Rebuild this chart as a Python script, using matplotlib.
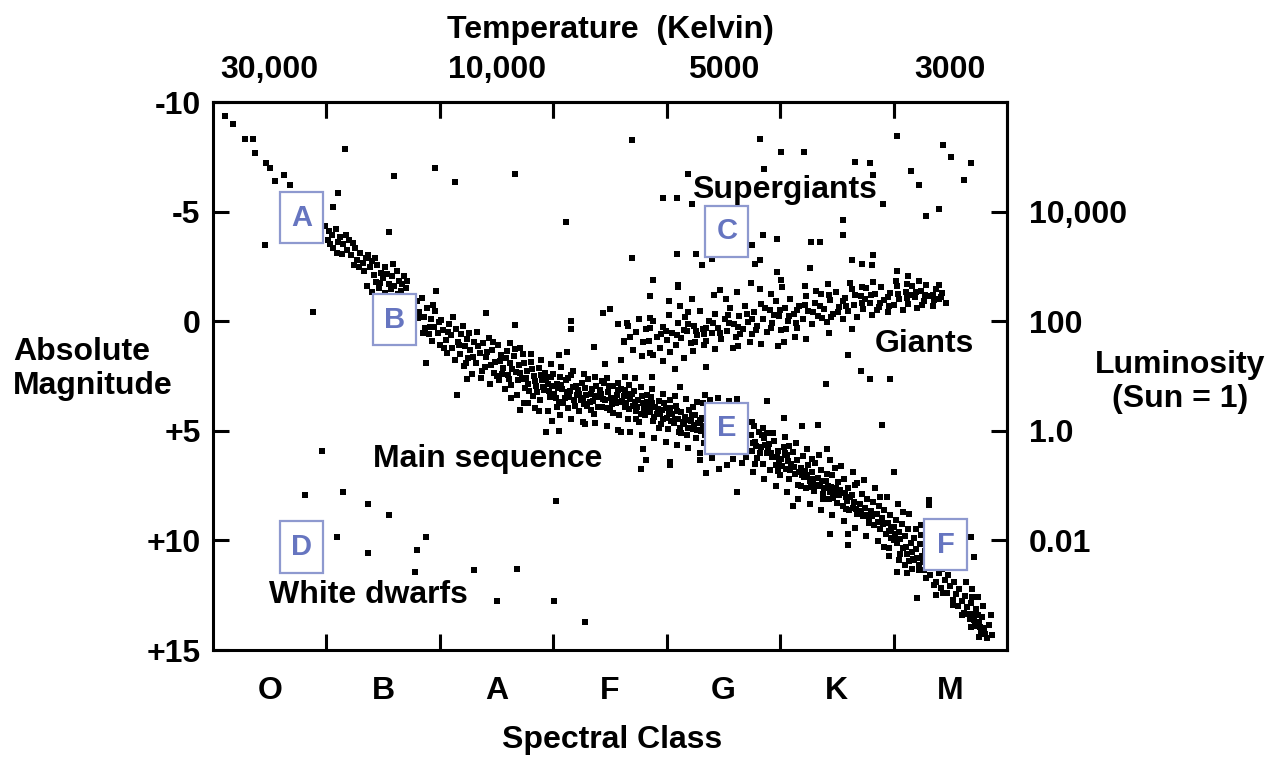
import matplotlib.pyplot as plt
from matplotlib.patches import Rectangle

plt.rcParams['font.family'] = ['Liberation Sans', 'DejaVu Sans']
plt.rcParams['font.weight'] = 'bold'

# spectral classes sit at the middle of each bin (x axis runs 0..7)
classes = ['O', 'B', 'A', 'F', 'G', 'K', 'M']
class_pos = [0.5, 1.5, 2.5, 3.5, 4.5, 5.5, 6.5]
temp_pos = [0.5, 2.5, 4.5, 6.5]
temp_labels = ['30,000', '10,000', '5000', '3000']
mag_ticks = [-10, -5, 0, 5, 10, 15]
mag_labels = ['-10', '-5', '0', '+5', '+10', '+15']
lum_ticks = [-5, 0, 5, 10]
lum_labels = ['10,000', '100', '1.0', '0.01']

# stars: (spectral position, absolute magnitude)
main_seq = [
    (0.11, -9.37), (0.18, -9.0), (0.28, -8.29), (0.35, -8.29), (0.37, -7.68), (0.47, -7.2),
    (0.50, -6.98), (0.55, -6.38), (0.63, -6.67), (0.68, -6.2),
    (0.99, -4.35), (1.02, -4.1), (1.05, -3.95), (1.01, -3.7), (1.08, -4.2), (1.10, -3.6),
    (1.12, -3.85), (1.06, -3.35), (1.15, -3.5), (1.18, -3.25), (1.14, -3.05), (1.20, -3.7),
    (1.22, -3.0), (1.25, -3.35), (1.27, -2.8), (1.24, -2.55), (1.30, -3.1), (1.32, -2.65),
    (1.35, -2.9), (1.33, -2.3), (1.38, -2.45), (1.40, -2.75), (1.42, -2.1), (1.45, -2.55),
    (1.44, -1.8), (1.48, -2.2), (1.50, -1.95), (1.52, -2.45), (1.55, -1.7), (1.58, -2.05),
    (1.60, -1.6), (1.62, -2.3), (1.64, -1.85), (1.66, -1.4), (1.68, -2.05),
    (1.36, -1.6), (1.40, -1.35), (1.46, -1.5), (1.52, -1.3), (1.57, -1.45), (1.63, -1.25),
    (1.70, -1.5), (1.73, -1.1),
    (1.80, -0.9), (1.82, -0.4), (1.84, -1.05), (1.86, -0.2), (1.87, 0.3), (1.89, -0.6),
    (1.90, 0.6), (1.92, -0.1), (1.93, 0.9), (1.95, 0.25), (1.96, -0.45), (1.98, 0.55),
    (2.00, 1.1), (2.01, -0.05), (2.03, 0.4), (2.05, 0.85), (2.06, 1.45), (2.08, 0.15),
    (2.10, 0.65), (2.11, 1.2), (2.13, 1.75), (2.14, 0.35), (2.16, 0.95), (2.18, 1.5),
    (2.19, 0.6), (2.21, 2.05), (2.22, 1.15), (2.24, 0.8), (2.25, 1.7), (2.27, 1.3),
    (2.28, 2.4), (2.30, 0.95),
    (2.32, 1.9), (2.33, 0.5), (2.35, 1.45), (2.36, 2.6), (2.38, 1.0), (2.40, 2.1),
    (2.41, 1.65), (2.43, 0.75), (2.44, 2.85), (2.46, 1.3), (2.48, 2.35), (2.49, 1.85),
    (2.51, 1.1), (2.52, 2.7), (2.54, 1.55), (2.56, 2.15), (2.57, 3.1), (2.59, 1.35),
    (2.60, 2.45), (2.62, 1.9), (2.63, 2.9), (2.65, 1.6), (2.67, 2.3), (2.68, 3.35),
    (2.70, 2.0), (2.72, 2.65), (2.73, 1.5), (2.75, 3.05), (2.77, 2.25), (2.78, 2.85),
    (2.80, 1.85), (2.82, 3.4), (2.83, 2.5), (2.85, 2.95), (2.87, 2.15), (2.88, 3.6),
    (2.90, 2.7), (2.92, 3.15), (2.93, 2.35), (2.95, 2.85), (2.97, 3.45), (2.98, 2.55),
    (3.00, 2.4), (3.01, 3.3), (3.03, 2.85), (3.05, 3.7), (3.06, 2.55), (3.08, 3.1),
    (3.10, 3.5), (3.11, 2.7), (3.13, 3.95), (3.15, 3.2), (3.16, 2.45), (3.18, 3.6),
    (3.20, 2.95), (3.21, 3.35), (3.23, 4.1), (3.25, 2.8), (3.26, 3.5), (3.28, 3.05),
    (3.30, 3.85), (3.31, 2.65), (3.33, 3.3), (3.35, 3.65), (3.36, 4.25), (3.38, 2.95),
    (3.40, 3.45), (3.41, 3.15), (3.43, 3.9), (3.45, 2.8), (3.46, 3.6), (3.48, 3.25),
    (3.50, 4.05), (3.51, 3.5), (3.53, 2.95), (3.55, 3.75), (3.56, 3.35), (3.58, 4.3),
    (3.60, 3.1), (3.61, 3.65), (3.63, 3.9), (3.65, 3.3), (3.66, 4.45), (3.68, 3.55),
    (3.70, 3.85), (3.71, 3.2), (3.73, 4.1), (3.75, 3.6), (3.76, 4.6), (3.78, 3.4),
    (3.80, 3.95), (3.81, 4.3), (3.83, 3.7), (3.85, 4.15), (3.86, 3.45), (3.88, 4.55),
    (3.90, 3.9), (3.91, 4.25), (3.93, 3.65), (3.95, 4.7), (3.96, 4.05), (3.98, 3.75),
    (4.00, 4.4), (4.01, 4.9), (4.03, 3.95), (4.05, 4.25), (4.06, 4.65), (4.08, 3.85),
    (4.10, 4.45), (4.11, 5.05), (4.13, 4.15), (4.15, 4.7), (4.16, 4.35), (4.18, 5.2),
    (4.20, 4.05), (4.21, 4.55), (4.23, 4.9), (4.25, 4.3), (4.26, 5.35), (4.28, 4.65),
    (4.30, 5.0), (4.31, 4.4), (4.33, 5.55), (4.35, 4.8),
    (3.04, 3.05), (3.14, 3.45), (3.24, 3.6), (3.34, 3.1), (3.44, 3.55), (3.54, 3.55),
    (3.64, 3.75), (3.74, 3.9), (3.84, 3.9), (3.94, 4.2), (4.04, 4.55), (4.14, 4.6),
    (4.24, 4.75), (4.34, 5.2),
    (4.38, 3.6), (4.45, 3.5), (4.55, 3.65), (4.62, 3.55), (4.40, 6.25), (4.58, 6.3),
    (4.66, 6.45), (4.70, 6.2),
    (4.74, 5.2), (4.75, 5.9), (4.77, 4.8), (4.78, 5.5), (4.80, 6.25), (4.81, 5.05),
    (4.83, 5.75), (4.85, 6.5), (4.86, 5.35), (4.88, 6.0), (4.90, 5.6), (4.91, 6.8),
    (4.93, 6.2), (4.95, 5.45), (4.96, 6.55), (4.98, 5.9), (5.00, 7.0), (5.01, 6.3),
    (5.03, 5.75), (5.05, 6.75), (5.06, 6.1), (5.08, 7.2), (5.10, 6.5), (5.11, 5.95),
    (5.13, 6.95), (5.15, 6.35), (5.16, 7.45), (5.18, 6.7), (5.20, 6.15), (5.21, 7.1),
    (5.23, 7.6), (5.25, 6.55), (5.26, 7.3), (5.28, 6.9), (5.30, 7.75), (5.31, 6.45),
    (5.33, 7.15), (5.35, 7.5), (5.36, 6.8), (5.38, 7.9), (5.40, 7.3), (5.41, 6.95),
    (5.43, 8.1), (5.45, 7.55), (5.46, 7.0), (5.48, 7.85), (5.50, 8.3), (5.51, 7.35),
    (5.53, 7.7), (5.55, 8.45), (5.56, 7.2), (5.58, 8.0), (5.60, 7.6), (5.61, 8.6),
    (5.63, 7.95), (5.65, 8.25), (5.66, 7.45), (5.68, 8.8),
    (4.79, 5.7), (4.89, 5.8), (4.99, 6.4), (5.09, 6.8), (5.19, 7.0), (5.29, 7.2),
    (5.39, 7.6), (5.49, 7.6), (5.59, 8.2), (4.84, 5.2), (5.04, 6.0), (5.24, 7.0),
    (5.44, 7.8), (5.64, 8.5),
    (5.70, 8.35), (5.72, 7.9), (5.73, 8.9), (5.75, 8.5), (5.77, 8.1), (5.78, 9.1),
    (5.80, 8.65), (5.82, 8.25), (5.83, 9.3), (5.85, 8.8), (5.87, 8.45), (5.88, 9.5),
    (5.90, 9.0), (5.92, 8.6), (5.93, 9.7), (5.95, 9.2), (5.97, 8.85), (5.98, 9.9),
    (6.00, 9.4), (6.02, 9.05), (6.03, 10.1), (6.05, 9.6), (6.07, 9.25), (6.08, 10.35),
    (6.10, 9.8), (6.12, 10.6), (6.13, 9.5), (6.15, 10.1), (6.17, 10.85), (6.18, 9.9),
    (6.20, 10.4), (6.22, 11.1), (6.23, 10.15), (6.25, 10.7), (6.27, 11.35), (6.28, 10.5),
    (6.30, 10.95), (6.32, 11.6), (6.33, 10.8), (6.35, 11.25), (6.37, 11.9), (6.38, 11.05),
    (6.40, 11.5), (6.42, 12.15), (6.43, 11.3), (6.45, 11.8), (6.47, 12.4), (6.48, 11.6),
    (6.50, 12.1), (6.52, 12.7), (6.53, 11.9), (6.55, 12.45), (6.57, 13.0), (6.58, 12.2),
    (6.60, 12.75), (6.62, 13.3), (6.63, 12.55), (6.65, 13.05), (6.67, 13.6), (6.68, 12.85),
    (6.70, 13.35), (6.72, 13.9), (6.73, 13.15), (6.75, 13.7), (6.77, 14.2), (6.78, 13.5),
    (6.80, 14.0), (6.82, 14.45), (6.84, 13.85), (6.87, 14.3),
    (5.11, 8.43), (5.44, 9.71), (5.60, 9.71), (5.60, 10.21), (6.03, 11.43), (6.12, 11.51),
    (6.21, 12.63), (6.37, 12.48), (6.31, 8.14), (6.31, 8.37), (6.00, 6.87), (6.68, 9.86),
    (6.71, 10.76), (5.92, 10.3), (5.96, 10.7), (6.00, 10.0), (6.05, 10.9), (6.10, 11.1),
    (6.16, 11.3), (6.20, 9.5),
]

main_seq_fill = [
    (1.03, -3.5), (1.09, -3.1), (1.17, -3.95), (1.23, -3.55), (1.29, -2.45), (1.37, -3.0),
    (1.43, -2.9), (1.47, -1.75), (1.53, -2.15), (1.59, -2.6), (1.67, -1.7), (1.71, -1.85),
    (1.81, -0.15), (1.85, 0.55), (1.91, 0.25), (1.94, -0.75), (1.99, 0.05), (2.04, 1.2),
    (2.07, 0.5), (2.12, -0.2), (2.17, 1.1), (2.20, 0.2), (2.23, 1.9), (2.26, 0.55),
    (2.29, 1.65), (2.34, 1.15), (2.37, 2.25), (2.42, 1.4), (2.45, 2.0), (2.47, 0.95),
    (2.50, 2.5), (2.53, 1.8), (2.55, 2.4), (2.58, 1.7), (2.61, 2.65), (2.64, 2.2),
    (2.66, 1.25), (2.69, 2.7), (2.71, 2.35), (2.74, 1.9), (2.76, 2.6), (2.79, 3.2),
    (2.81, 2.2), (2.84, 2.75), (2.86, 3.25), (2.89, 2.45), (2.91, 3.0), (2.94, 2.6),
    (2.96, 3.2), (2.99, 2.95), (3.02, 3.5), (3.07, 2.9), (3.09, 3.75), (3.12, 3.25),
    (3.17, 3.0), (3.19, 3.85), (3.22, 3.15), (3.27, 3.8), (3.29, 3.35), (3.32, 3.7),
    (3.37, 3.4), (3.39, 3.9), (3.42, 3.3), (3.47, 3.95), (3.49, 2.95), (3.52, 3.8),
    (3.57, 3.15), (3.59, 3.7), (3.62, 3.4), (3.67, 4.0), (3.69, 3.3), (3.72, 3.7),
    (3.77, 4.25), (3.79, 3.75), (3.82, 4.05), (3.87, 3.75), (3.89, 4.35), (3.92, 4.0),
    (3.97, 4.45), (3.99, 3.95), (4.02, 4.25), (4.07, 4.45), (4.09, 4.1), (4.12, 4.85),
    (4.17, 4.5), (4.19, 4.85), (4.22, 4.3), (4.27, 4.95), (4.29, 4.5), (4.32, 4.8),
    (4.76, 5.55), (4.82, 6.0), (4.87, 5.65), (4.92, 6.0), (4.97, 6.2), (5.02, 6.6),
    (5.07, 6.4), (5.12, 6.65), (5.17, 6.9), (5.22, 6.85), (5.27, 7.55), (5.32, 7.45),
    (5.37, 7.3), (5.42, 7.5), (5.47, 8.05), (5.52, 7.95), (5.57, 7.85), (5.62, 8.0),
    (5.67, 8.55), (5.71, 8.65), (5.76, 8.85), (5.81, 8.9), (5.86, 9.15), (5.91, 9.25),
    (5.96, 9.55), (6.01, 9.7), (6.06, 9.95), (6.11, 10.3), (6.16, 10.55), (6.21, 10.8),
    (6.26, 11.0), (6.66, 13.35), (6.71, 13.65), (6.76, 13.95), (6.81, 14.25), (6.69, 12.6),
    (6.74, 13.4),
]

main_seq_edges = [
    (2.62, 1.0), (2.71, 1.2), (2.80, 1.5), (2.89, 1.75), (2.98, 1.95), (3.07, 2.1),
    (3.17, 2.25), (3.27, 2.4), (3.37, 2.55), (3.47, 2.6), (3.57, 2.8), (3.67, 2.9),
    (3.77, 3.0), (3.87, 3.1), (3.97, 3.3), (4.07, 3.4), (4.17, 3.55), (4.27, 3.7),
    (4.32, 3.75), (4.75, 4.6), (4.85, 4.85), (4.94, 5.1), (5.04, 5.3), (5.14, 5.55),
    (5.24, 5.85), (5.34, 6.1), (5.44, 6.35), (5.54, 6.6), (5.64, 6.9), (5.74, 7.25),
    (5.84, 7.6), (5.94, 8.0), (6.04, 8.35), (6.14, 8.8), (6.24, 9.3), (6.64, 11.9),
    (6.69, 12.2), (6.74, 12.6), (6.79, 13.0), (6.86, 13.4),
    (2.63, 3.5), (2.74, 3.75), (2.84, 3.95), (2.95, 4.1), (3.06, 4.3), (3.16, 4.45),
    (3.26, 4.6), (3.37, 4.65), (3.47, 4.8), (3.57, 4.95), (3.68, 5.05), (3.78, 5.2),
    (3.89, 5.35), (3.99, 5.5), (4.09, 5.65), (4.19, 5.8), (4.29, 6.0),
    (4.76, 6.9), (4.86, 7.2), (4.96, 7.5), (5.06, 7.8), (5.16, 8.1), (5.26, 8.35),
    (5.36, 8.6), (5.46, 8.85), (5.56, 9.1), (5.66, 9.45), (5.76, 9.8), (5.86, 10.05),
    (5.96, 10.35), (6.06, 10.6), (6.14, 10.95), (6.22, 11.35), (6.29, 11.7), (6.36, 12.05),
    (6.44, 12.4), (6.52, 12.95), (6.60, 13.4), (6.68, 13.95), (6.75, 14.4),
    (3.03, 3.9), (3.13, 2.6), (3.23, 3.3), (3.33, 4.05), (3.43, 2.75), (3.53, 4.2),
    (3.63, 3.15), (3.73, 4.45), (3.83, 3.35), (3.93, 4.85), (4.03, 3.6), (4.13, 5.1),
    (4.23, 3.9), (4.33, 4.45), (4.78, 6.5), (4.88, 5.1), (4.98, 6.85), (5.08, 5.7),
    (5.18, 7.5), (5.28, 6.3), (5.38, 8.1), (5.48, 6.7), (5.58, 8.55), (5.68, 7.4),
    (5.78, 9.2), (5.88, 8.0), (5.98, 9.45), (6.08, 8.7), (6.18, 10.9), (6.24, 9.75),
]

giants = [
    (3.62, 0.9), (3.66, 0.2), (3.70, 1.3), (3.73, 0.5), (3.76, -0.1), (3.79, 0.95),
    (3.82, 0.35), (3.85, 1.45), (3.88, 0.0), (3.91, 0.7), (3.94, 1.2), (3.97, 0.25),
    (4.00, 0.85), (4.02, -0.3), (4.05, 0.55), (4.08, 1.1), (4.10, 0.1), (4.13, 0.75),
    (4.16, -0.2), (4.18, 0.45), (4.21, 1.0), (4.24, 0.2), (4.27, 0.65), (4.29, -0.45),
    (4.32, 0.35), (4.35, 0.9), (4.37, 0.0), (4.40, 0.55), (4.43, -0.35), (4.45, 0.3),
    (4.48, 0.8), (4.51, -0.1), (4.53, 0.45), (4.56, -0.6), (4.59, 0.15), (4.61, 0.7),
    (4.64, -0.25), (4.67, 0.35), (4.69, -0.7), (4.72, 0.05), (4.75, 0.6), (4.77, -0.4),
    (4.80, 0.2), (4.83, -0.8), (4.85, -0.1), (4.88, 0.5), (4.91, -0.5), (4.93, 0.1),
    (4.96, -0.9), (4.99, -0.25), (5.01, 0.4), (5.04, -0.6), (5.07, 0.0), (5.09, -1.0),
    (5.12, -0.35), (5.15, 0.3), (5.17, -0.7), (5.20, -0.1), (5.23, -1.15), (5.25, -0.45),
    (5.28, 0.15), (5.31, -0.85), (5.33, -0.25), (5.36, -1.25), (5.39, -0.55), (5.41, 0.05),
    (5.44, -0.95), (5.47, -0.35), (5.49, -1.35), (5.52, -0.65), (5.55, -0.1), (5.57, -1.05),
    (5.60, -0.45), (5.63, -1.45), (5.65, -0.75), (5.68, -0.2), (5.71, -1.15), (5.73, -0.55),
    (5.76, -1.5), (5.79, -0.85), (5.81, -0.3), (5.84, -1.25), (5.87, -0.65), (5.89, -1.55),
    (5.92, -0.95), (5.95, -0.4), (5.97, -1.3), (6.00, -0.75), (6.03, -1.6), (6.05, -1.0),
    (6.08, -0.5), (6.11, -1.35), (6.13, -0.8), (6.16, -1.6), (6.19, -1.1), (6.21, -0.6),
    (6.24, -1.4), (6.27, -0.9), (6.29, -1.65), (6.32, -1.15), (6.35, -0.7), (6.37, -1.45),
    (6.40, -1.0), (6.43, -1.3), (6.46, -0.85),
    (3.95, 0.6), (4.15, 0.4), (4.35, 0.3), (4.55, 0.1), (4.75, -0.1), (4.95, -0.3),
    (5.15, -0.5), (5.35, -0.7), (5.55, -0.9), (5.75, -1.0), (5.95, -1.1), (6.15, -1.2),
    (6.35, -1.2), (4.25, 0.95), (4.65, 0.6), (5.05, 0.35), (5.45, -0.2), (5.85, -0.5),
    (6.25, -0.75),
    (3.68, 0.7), (3.84, 0.9), (3.99, 0.45), (4.09, 0.65), (4.19, 0.15), (4.26, 0.45),
    (4.33, 0.6), (4.41, 0.1), (4.47, 0.55), (4.54, -0.3), (4.63, 0.25), (4.71, -0.35),
    (4.79, 0.4), (4.87, -0.6), (4.92, 0.3), (5.00, -0.5), (5.08, -0.25), (5.14, 0.1),
    (5.22, -0.75), (5.29, -0.4), (5.37, -0.15), (5.43, -1.2), (5.51, -0.4), (5.58, -0.7),
    (5.66, -1.2), (5.72, -0.85), (5.80, -1.2), (5.88, -0.85), (5.96, -0.7), (6.04, -1.25),
    (6.12, -1.05), (6.20, -1.35), (6.28, -1.2), (6.36, -0.95), (6.42, -1.1),
    (4.02, -0.9), (4.22, -1.0), (4.42, -1.2), (4.62, -1.35), (4.82, -1.45), (5.02, -1.55),
    (5.22, -1.6), (5.42, -1.7), (5.62, -1.75), (5.82, -1.8), (6.02, -1.85), (6.22, -1.85),
    (4.12, -0.7), (4.52, -1.0), (4.92, -1.25), (5.32, -1.4), (5.72, -1.55), (6.12, -1.7),
    (3.78, 1.6), (4.03, 1.4), (4.23, 1.35), (4.43, 1.25), (4.63, 1.15), (4.83, 1.05),
    (5.03, 0.95), (5.23, 0.8), (5.43, 0.55), (5.63, 0.35), (4.33, 1.1), (4.73, 0.95),
    (5.13, 0.7), (4.58, 1.2), (4.98, 1.15),
]

supergiants = [
    (1.16, -7.84), (1.10, -5.85), (1.06, -5.2), (1.60, -6.63), (1.96, -6.98), (2.13, -6.33),
    (0.46, -3.46), (1.55, -4.06), (3.69, -8.25), (2.66, -6.71), (3.11, -4.51), (3.97, -5.63),
    (4.09, -5.63), (4.19, -6.7), (4.22, -5.33), (3.69, -2.9), (4.09, -3.08), (4.26, -3.08),
    (4.31, -2.56), (4.40, -2.83), (3.88, -1.89), (4.10, -1.63), (4.82, -8.32), (6.03, -8.47),
    (5.01, -7.73), (5.21, -7.73), (4.86, -6.94), (5.66, -7.28), (5.79, -7.2), (5.82, -6.65),
    (6.15, -6.83), (6.22, -6.23), (6.44, -8.02), (6.51, -7.5), (6.68, -7.2), (6.62, -6.45),
    (5.91, -5.33), (6.29, -4.81), (6.40, -5.1), (5.55, -4.61), (4.85, -3.91), (4.97, -3.76),
    (4.75, -3.46), (5.27, -3.61), (5.35, -3.61), (5.55, -3.91), (4.78, -2.63), (4.82, -2.79),
    (5.82, -3.01), (5.63, -2.79), (5.72, -2.63), (5.81, -2.56), (5.26, -2.41), (6.03, -2.31),
    (6.13, -2.04), (4.97, -2.26), (5.01, -1.89), (4.74, -1.74), (6.40, -1.66),
]

scattered = [
    (2.41, -0.39), (2.66, 0.18), (3.16, -0.02), (3.16, 0.36), (3.44, -0.36), (3.50, -0.54),
    (3.57, 0.13), (3.65, 0.06), (3.85, -1.14), (3.85, -0.16), (3.85, 0.29), (4.10, -1.54),
    (4.19, -0.43), (4.47, -1.44), (3.36, 1.18), (3.62, 0.96), (3.12, 1.41), (3.05, 1.56),
    (3.60, 1.78), (3.46, 1.93), (3.88, 1.56), (3.97, 1.81), (4.15, 1.66), (4.07, 2.16),
    (4.35, 2.08), (3.72, 2.6), (3.87, 2.53), (3.63, 2.53), (4.12, 2.98), (4.34, 3.35),
    (0.88, -0.43), (2.15, 3.35), (2.24, 2.65), (1.88, 1.9), (1.97, -1.36),
    (5.60, 1.55), (5.71, 2.26), (5.79, 2.63), (5.97, 2.63), (5.40, 2.86), (4.88, 3.65),
    (5.90, 4.74), (5.33, 4.73), (5.03, 4.4), (5.19, 4.78), (5.41, 5.85),
    (3.82, 6.35), (4.03, 6.42), (4.29, 6.35), (3.79, 5.82), (3.77, 6.72), (4.03, 6.57),
    (4.35, 6.94), (4.46, 6.72), (4.53, 6.57), (4.62, 7.81), (3.02, 8.22), (2.71, 4.03),
    (2.78, 3.73), (2.99, 4.55), (3.28, 4.7), (2.94, 5.07), (3.05, 5.0), (3.60, 5.07),
    (2.87, 4.1),
]

white_dwarfs = [
    (0.96, 5.9), (0.81, 7.92), (1.15, 7.81), (1.37, 8.32), (1.55, 8.86), (1.09, 9.86),
    (1.88, 9.86), (1.37, 10.58), (1.80, 10.42), (1.78, 11.43), (2.30, 11.33), (2.68, 11.29),
    (2.50, 12.78), (3.01, 12.78), (3.28, 13.72),
]

box_letters = ['A', 'B', 'C', 'D', 'E', 'F']
box_x = [0.78, 1.60, 4.53, 0.78, 4.53, 6.46]
box_mag = [-4.73, -0.06, -4.1, 10.3, 4.88, 10.2]

region_names = ['Supergiants', 'Giants', 'Main sequence', 'White dwarfs']
region_x = [5.04, 6.27, 2.42, 1.37]
region_mag = [-5.99, 1.02, 6.27, 12.47]

W, H = 1279, 757
fig = plt.figure(figsize=(W / 100, H / 100), dpi=100)
ax = fig.add_axes([213 / W, 107 / H, 794 / W, 548 / H])

for group in [main_seq, main_seq_fill, main_seq_edges, giants, supergiants,
              scattered, white_dwarfs]:
    xs, ms = zip(*group)
    ax.scatter(xs, ms, s=15, marker='s', color='black', linewidths=0, zorder=2)

ax.set_xlim(0, 7)
ax.set_ylim(15, -10)

for sp in ax.spines.values():
    sp.set_linewidth(2.2)

# bottom: tick marks between classes, class letters in the middle
ax.set_xticks([1, 2, 3, 4, 5, 6])
ax.set_xticklabels([])
ax.set_xticks(class_pos, minor=True)
ax.set_xticklabels(classes, minor=True, fontsize=23)
ax.tick_params(axis='x', which='minor', length=0, pad=19)

ax.set_yticks(mag_ticks)
ax.set_yticklabels(mag_labels, fontsize=23)
ax.tick_params(axis='y', which='major', pad=9)
ax.tick_params(which='major', direction='in', length=11.5, width=2.2,
               top=True, right=False)

top = ax.secondary_xaxis('top')
top.set_xticks([1, 2, 3, 4, 5, 6])
top.set_xticklabels([])
top.set_xticks(temp_pos, minor=True)
top.set_xticklabels(temp_labels, minor=True, fontsize=23)
top.tick_params(which='major', direction='in', length=11.5, width=2.2)
top.tick_params(which='minor', length=0, pad=12)
top.spines['top'].set_linewidth(2.2)

right = ax.secondary_yaxis('right')
right.set_yticks(lum_ticks)
right.set_yticklabels(lum_labels, fontsize=23)
right.tick_params(which='major', direction='in', length=11.5, width=2.2, pad=16)
right.spines['right'].set_linewidth(2.2)

for letter, bx, bm in zip(box_letters, box_x, box_mag):
    ax.add_patch(Rectangle((bx - 0.19, bm - 1.165), 0.38, 2.33, facecolor='white',
                           edgecolor='#8e99cf', linewidth=1.6, zorder=3))
    ax.text(bx, bm, letter, ha='center', va='center', fontsize=21,
            color='#6675c0', zorder=4)

for name, rx, rm in zip(region_names, region_x, region_mag):
    ax.text(rx, rm, name, ha='center', va='center', fontsize=23, zorder=4)

fig.text(610 / W, 1 - 30 / H, 'Temperature  (Kelvin)', ha='center', va='center', fontsize=23)
fig.text(612 / W, 1 - 740 / H, 'Spectral Class', ha='center', va='center', fontsize=23)
fig.text(13 / W, 1 - 369 / H, 'Absolute\nMagnitude', ha='left', va='center',
         fontsize=23, multialignment='left')
fig.text(1180 / W, 1 - 382 / H, 'Luminosity\n(Sun = 1)', ha='center', va='center',
         fontsize=23, multialignment='center')

fig.savefig('out.png', dpi=100, facecolor='white')
plt.close()
